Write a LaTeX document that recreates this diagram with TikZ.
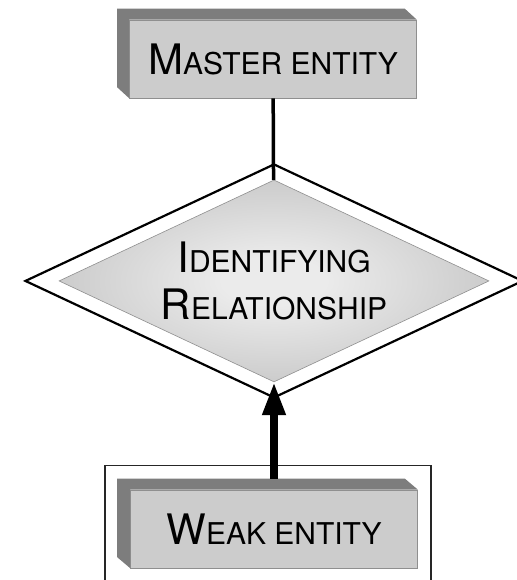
\documentclass[tikz,border=0pt]{standalone}
\usepackage{fontspec}
\setmainfont{TeX Gyre Heros}
\usepackage{tikz}
\usetikzlibrary{positioning, arrows.meta, shapes.geometric}
\definecolor{facegray}{HTML}{CCCCCC}
\definecolor{sidegray}{HTML}{7D7D7D}
\definecolor{edgegray}{HTML}{8F8F8F}
\definecolor{shadelight}{HTML}{EBEBEB}
\definecolor{shadedark}{HTML}{A6A6A6}
\pgfdeclareradialshading{relshade}{\pgfpoint{0bp}{0bp}}{color(0bp)=(shadelight); color(6bp)=(shadelight); color(48bp)=(shadedark); color(50bp)=(shadedark)}
\newcommand{\capsc}[2]{{\fontsize{42}{47}\selectfont #1}{\fontsize{30}{47}\selectfont #2}}
\tikzstyle{entity} = [rectangle, draw=edgegray, line width=0.6pt, fill=facegray, minimum width=287pt, minimum height=78pt, inner sep=0pt]
\tikzstyle{side} = [fill=sidegray]
\tikzstyle{relframe} = [diamond, draw=black, line width=2.2pt, fill=white, minimum width=498pt, minimum height=234pt, inner sep=0pt]
\tikzstyle{relation} = [diamond, aspect=2.13, draw=edgegray, line width=0.6pt, shading=relshade, minimum width=430pt, minimum height=202pt, inner sep=0pt, align=center, font=\fontsize{30}{47}\selectfont]
\tikzstyle{link} = [line width=3.5pt]
\tikzstyle{arrow} = [line width=7.5pt, -{Triangle[length=33pt, width=22pt]}]
\tikzstyle{weakframe} = [draw=black!85, line width=1.6pt]

\begin{document}
\begin{tikzpicture}[x=1pt, y=1pt]
    \useasboundingbox (0,0) rectangle (516,580);
    \node (master) [entity] at (273,521) {\capsc{M}{ASTER ENTITY}};
    \node (relout) [relframe, below of=master, xshift=1pt, yshift=-193.5pt] {};
    \node (rel) [relation] at (relout)
      {\capsc{I}{DENTIFYING}\\\capsc{R}{ELATIONSHIP}};
    \node (weak) [entity, below of=relout, yshift=-219.5pt] {\capsc{W}{EAK ENTITY}};
    % raised sides of the entity boxes
    \fill [side] (master.south west) -- ++(-12,11) |- ([shift={(-12pt,11pt)}]master.north east)
      -- (master.north east) -- (master.north west) -- cycle;
    \fill [side] (weak.south west) -- ++(-13,11) |- ([shift={(-13pt,11pt)}]weak.north east)
      -- (weak.north east) -- (weak.north west) -- cycle;
    \draw [weakframe] ([shift={(-25pt,24pt)}]weak.north west) rectangle ([shift={(13pt,-13pt)}]weak.south east);
    \draw [link] (master) -- (rel);
    \draw [arrow] ([yshift=11pt]weak.north) -- (rel.south);
\end{tikzpicture}
\end{document}
